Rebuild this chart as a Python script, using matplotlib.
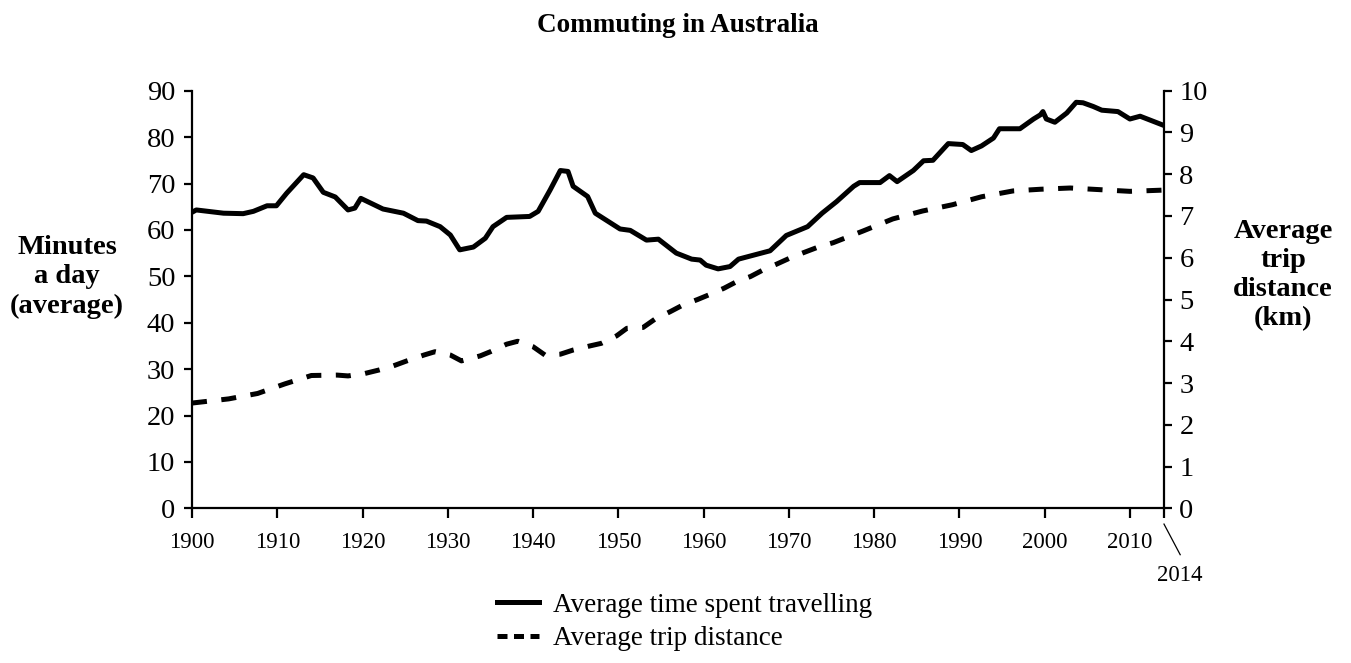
import matplotlib
matplotlib.use("Agg")
import matplotlib.pyplot as plt
from matplotlib.lines import Line2D

# average minutes a day spent commuting (left axis)
years_time = [1900, 1900.5, 1903.7, 1906, 1907.2, 1908.8, 1909.9, 1911.1, 1913.1, 1914.2,
              1915.4, 1916.8, 1918.3, 1919.1, 1919.8, 1922.4, 1924.8, 1926.5, 1927.5, 1929.1,
              1930.3, 1931.4, 1933, 1934.4, 1935.3, 1936.9, 1939.6, 1940.6, 1942, 1943.2,
              1944.1, 1944.7, 1946.4, 1947.3, 1950.2, 1951.4, 1953.3, 1954.7, 1956.8, 1958.6,
              1959.6, 1960.3, 1961.7, 1963.1, 1964.1, 1967.8, 1969.7, 1972.2, 1973.9, 1975.6,
              1977.6, 1978.3, 1980.7, 1981.8, 1982.7, 1984.6, 1985.8, 1986.9, 1988.7, 1990.4,
              1991.4, 1992.6, 1994, 1994.7, 1997.1, 1998.7, 1999.5, 1999.8, 2000.2, 2001.2,
              2002.6, 2003.7, 2004.5, 2005.7, 2006.7, 2008.6, 2010, 2011.2, 2014]
minutes = [63.8, 64.3, 63.6, 63.5, 64.0, 65.2, 65.2, 67.9, 71.9, 71.2,
           68.1, 67.1, 64.3, 64.7, 66.8, 64.5, 63.6, 62.0, 61.9, 60.7,
           58.9, 55.7, 56.3, 58.2, 60.7, 62.7, 62.9, 64.0, 68.6, 72.8,
           72.6, 69.4, 67.2, 63.6, 60.2, 59.9, 57.8, 58.0, 55.0, 53.7,
           53.5, 52.4, 51.6, 52.1, 53.7, 55.5, 58.8, 60.7, 63.6, 66.1,
           69.4, 70.2, 70.2, 71.7, 70.4, 72.8, 74.9, 75.0, 78.6, 78.4,
           77.1, 78.1, 79.8, 81.8, 81.8, 83.9, 84.8, 85.5, 83.9, 83.2,
           85.2, 87.5, 87.4, 86.6, 85.8, 85.5, 83.9, 84.5, 82.5]

# average trip distance in km (right axis)
years_dist = [1900, 1904.3, 1907.7, 1910.9, 1914, 1917, 1918.3, 1920.3, 1921.9, 1923.6,
              1925.2, 1927.2, 1928.5, 1930.3, 1931.6, 1933.8, 1935, 1936.9, 1938.2, 1940,
              1941.4, 1943.2, 1944.7, 1946.7, 1948, 1949.8, 1951, 1952.9, 1954.3, 1956.1,
              1957.5, 1959.3, 1960.6, 1962.4, 1963.9, 1965.5, 1967, 1968.6, 1970.1, 1971.7,
              1973.5, 1975.2, 1978.7, 1982.2, 1985.7, 1989.2, 1992.6, 1996.3, 1999.5, 2003,
              2006.5, 2010, 2014]
km = [2.52, 2.62, 2.75, 2.98, 3.18, 3.19, 3.17, 3.23, 3.31, 3.41,
      3.53, 3.67, 3.75, 3.67, 3.53, 3.65, 3.75, 3.93, 4.0, 3.87,
      3.67, 3.69, 3.79, 3.89, 3.95, 4.13, 4.31, 4.33, 4.53, 4.71,
      4.86, 5.0, 5.11, 5.27, 5.43, 5.55, 5.71, 5.85, 5.99, 6.12,
      6.26, 6.36, 6.64, 6.93, 7.12, 7.27, 7.46, 7.60, 7.64, 7.67,
      7.63, 7.59, 7.62]

decade_ticks = list(range(1900, 2011, 10))
left_ticks = list(range(0, 91, 10))
right_ticks = list(range(0, 11))

plt.rcParams['font.family'] = ['Liberation Serif', 'DejaVu Serif']

fig = plt.figure(figsize=(13.51, 6.63), dpi=100)
ax = fig.add_axes([192 / 1351, 1 - 508.3 / 663, (1164 - 192) / 1351, (508.3 - 90.7) / 663])
ax2 = ax.twinx()

lw = 3.6
ax.plot(years_time, minutes, color='black', lw=lw, solid_joinstyle='round', solid_capstyle='round')
ax2.plot(years_dist, km, color='black', lw=lw, dashes=(3.0, 2.9))

ax.set_xlim(1900, 2014)
ax.set_ylim(0, 90)
ax2.set_ylim(0, 10)

ax.set_xticks(decade_ticks + [2014])
ax.set_xticklabels([str(y) for y in decade_ticks] + [''])
ax.set_yticks(left_ticks)
ax2.set_yticks(right_ticks)

for a in (ax, ax2):
    a.spines['top'].set_visible(False)
    for s in a.spines.values():
        s.set_linewidth(1.6)
ax.spines['right'].set_visible(False)
ax2.spines['left'].set_visible(False)
ax2.spines['bottom'].set_visible(False)

ax.tick_params(axis='x', direction='out', length=7, width=1.6, labelsize=16.5, pad=10)
ax.tick_params(axis='y', direction='out', length=6, width=1.6, labelsize=20.5, pad=6)
ax2.tick_params(axis='y', direction='out', length=6, width=1.6, labelsize=20.5, pad=5)

# the 2014 end marker below the axis
ax.plot([2014, 2015.9], [-3.4, -10.0], color='black', lw=0.9, clip_on=False)
ax.text(2015.9, -14.4, '2014', ha='center', va='center', fontsize=16.5)

fig.text(0.502, 1 - 25 / 663, 'Commuting in Australia', ha='center', va='center',
         fontsize=19.5, fontweight='bold')
fig.text(67 / 1351, 1 - 277 / 663, 'Minutes\na day\n(average)', ha='center', va='center',
         fontsize=20.5, fontweight='bold', linespacing=1.22)
fig.text(1283 / 1351, 1 - 275 / 663, 'Average\ntrip\ndistance\n(km)', ha='center', va='center',
         fontsize=20.5, fontweight='bold', linespacing=1.22)

handles = [Line2D([], [], color='black', lw=lw),
           Line2D([], [], color='black', lw=lw, dashes=(2.0, 1.3))]
fig.legend(handles, ['Average time spent travelling', 'Average trip distance'],
           loc='center left', bbox_to_anchor=(497 / 1351, 1 - 622 / 663), frameon=False,
           borderpad=0, borderaxespad=0, fontsize=19.5, handlelength=1.55,
           handletextpad=0.5, labelspacing=0.3)

fig.savefig('out.png', dpi=100, facecolor='white')
